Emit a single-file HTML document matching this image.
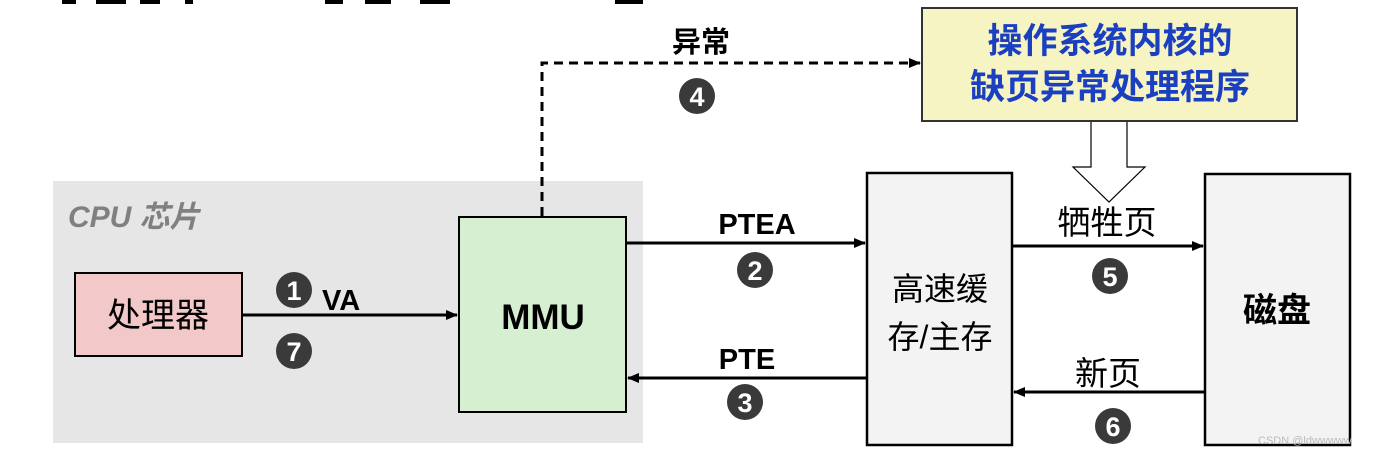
<!DOCTYPE html>
<html><head><meta charset="utf-8"><style>
html,body{margin:0;padding:0;background:#fff;}
svg{display:block;}
text{font-family:"Liberation Sans","Noto Sans CJK SC",sans-serif;}
</style></head><body>
<svg width="1375" height="460" viewBox="0 0 1375 460" xmlns="http://www.w3.org/2000/svg">
<defs>
<marker id="ah" markerWidth="12" markerHeight="10" refX="11" refY="5" orient="auto" markerUnits="userSpaceOnUse"><path d="M0,0 L12,5 L0,10 z" fill="#000"/></marker>
</defs>
<g fill="#000">
<rect x="62" y="0" width="14" height="4"/><rect x="96" y="0" width="30" height="4"/><rect x="140" y="0" width="20" height="4"/><rect x="185" y="0" width="8" height="4"/>
<rect x="325" y="0" width="18" height="4"/><rect x="365" y="0" width="26" height="4"/><rect x="420" y="0" width="30" height="4"/><rect x="615" y="0" width="28" height="4"/>
</g>
<rect x="53" y="181" width="590" height="262" fill="#e6e6e6"/>
<text x="68" y="227" font-size="30" font-style="italic" font-weight="bold" fill="#808080">CPU 芯片</text>
<rect x="75" y="273" width="167" height="83" fill="#f2c8c8" stroke="#000" stroke-width="2"/>
<text x="158" y="327" font-size="34" text-anchor="middle">处理器</text>
<rect x="459" y="217" width="167" height="195" fill="#d6efd0" stroke="#000" stroke-width="2"/>
<text x="543" y="329" font-size="35" font-weight="bold" text-anchor="middle">MMU</text>
<rect x="867" y="173" width="145" height="272" fill="#f3f3f3" stroke="#000" stroke-width="2.5"/>
<text x="940" y="300" font-size="32" text-anchor="middle">高速缓</text>
<text x="940" y="348" font-size="32" text-anchor="middle">存/主存</text>
<rect x="1205" y="174" width="145" height="271" fill="#f3f3f3" stroke="#000" stroke-width="2.5"/>
<text x="1277" y="322" font-size="34" font-weight="bold" text-anchor="middle">磁盘</text>
<rect x="922" y="8" width="375" height="113" fill="#f6f4c3" stroke="#333" stroke-width="2"/>
<text x="1110" y="53" font-size="35" font-weight="bold" fill="#1a3fc0" text-anchor="middle">操作系统内核的</text>
<text x="1110" y="99" font-size="35" font-weight="bold" fill="#1a3fc0" text-anchor="middle">缺页异常处理程序</text>
<path d="M1091,122 L1091,167 L1073,167 L1109,202 L1145,167 L1127,167 L1127,122" fill="#fff" stroke="#000" stroke-width="1.2"/>
<g stroke="#000" stroke-width="3" fill="none">
<line x1="243" y1="315" x2="457" y2="315" marker-end="url(#ah)"/>
<line x1="627" y1="243" x2="865" y2="243" marker-end="url(#ah)"/>
<line x1="866" y1="378" x2="628" y2="378" marker-end="url(#ah)"/>
<line x1="1013" y1="246" x2="1203" y2="246" marker-end="url(#ah)"/>
<line x1="1204" y1="392" x2="1014" y2="392" marker-end="url(#ah)"/>
<path d="M542,216 L542,63 L920,63" stroke-dasharray="9,6" marker-end="url(#ah)"/>
</g>
<g font-size="29" font-weight="bold">
<text x="322" y="310">VA</text>
<text x="757" y="234" text-anchor="middle">PTEA</text>
<text x="747" y="369" text-anchor="middle">PTE</text>
<text x="701" y="52" text-anchor="middle">异常</text>
</g>
<text x="1107" y="234" font-size="33" text-anchor="middle">牺牲页</text>
<text x="1108" y="385" font-size="33" text-anchor="middle">新页</text>
<g font-size="27" font-weight="bold" fill="#fff" text-anchor="middle">
<circle cx="294" cy="290" r="18" fill="#3a3a3a"/><text x="294" y="300">1</text>
<circle cx="294" cy="351" r="18" fill="#3a3a3a"/><text x="294" y="361">7</text>
<circle cx="697" cy="96" r="18" fill="#3a3a3a"/><text x="697" y="106">4</text>
<circle cx="755" cy="270" r="18" fill="#3a3a3a"/><text x="755" y="280">2</text>
<circle cx="745" cy="402" r="18" fill="#3a3a3a"/><text x="745" y="412">3</text>
<circle cx="1110" cy="276" r="18" fill="#3a3a3a"/><text x="1110" y="286">5</text>
<circle cx="1113" cy="426" r="18" fill="#3a3a3a"/><text x="1113" y="436">6</text>
</g>
<text x="1258" y="444" font-size="11" fill="#bbb">CSDN @ldwwwww</text>
</svg>
</body></html>
